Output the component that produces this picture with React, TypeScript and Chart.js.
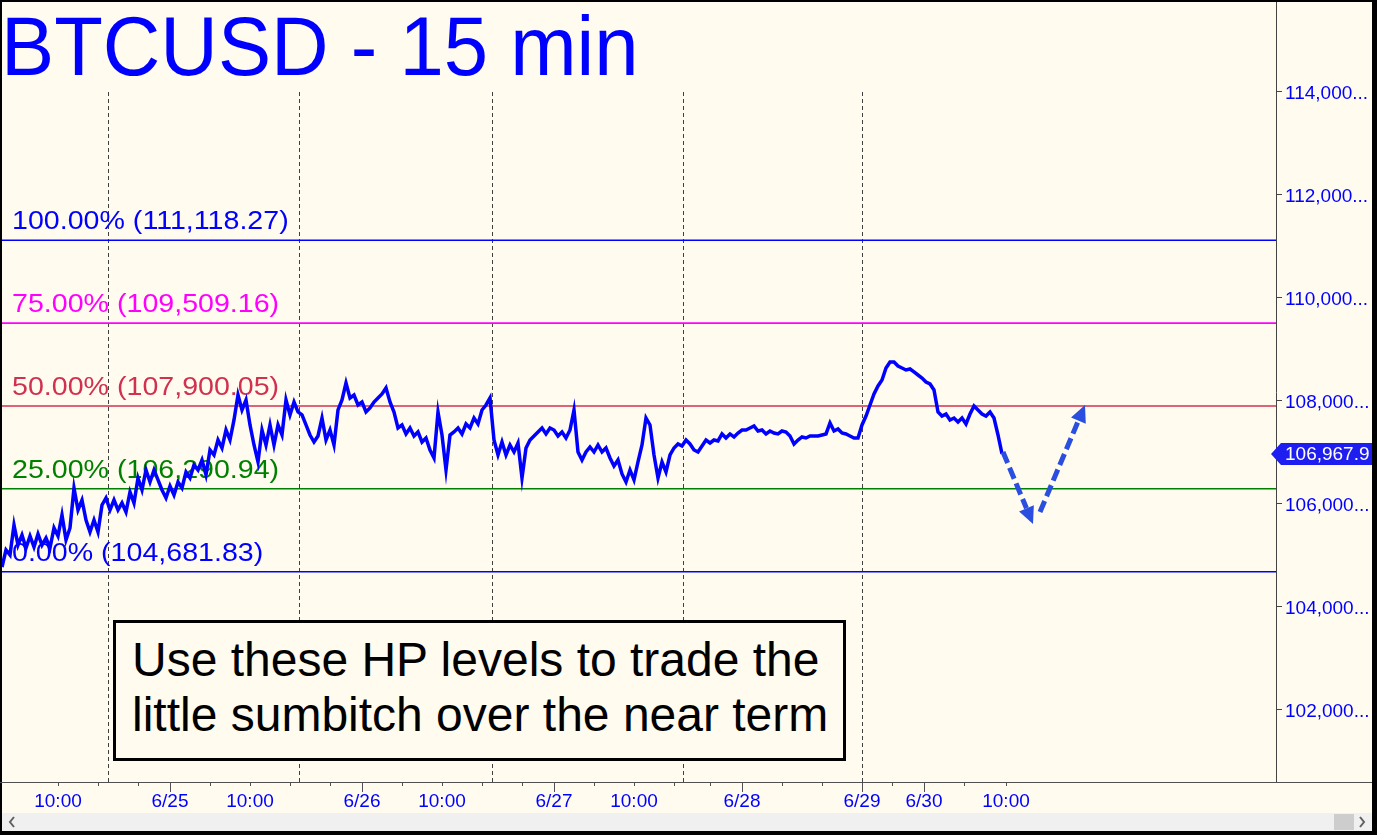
import React, { useEffect, useRef } from 'react';
import { Chart, registerables } from 'chart.js';

Chart.register(...registerables);

// ---------- data ----------
// one sample every 2 bars (15-min bars), starting at bar 0
const SAMPLE_BARS = 2;
const prices = [
  104773, 105104, 105006, 105589, 105200, 105395, 105142, 105375, 105162, 105414,
  105200, 105336, 105142, 105531, 105375, 105784, 105298, 105531, 106307, 105880,
  106074, 105686, 105453, 105686, 105453, 105977, 106113, 105880, 106074, 105880,
  106016, 105841, 106230, 106016, 106501, 106269, 106657, 106424, 106657, 106463,
  106269, 106113, 106346, 106171, 106424, 106307, 106618, 106501, 106754, 106657,
  106851, 106560, 107045, 106948, 107239, 107084, 107433, 107239, 107628, 108113,
  107822, 108016, 107531, 107142, 106812, 107433, 107142, 107531, 107142, 107531,
  107336, 108016, 107725, 107977, 107783, 107725, 107531, 107336, 107200, 107317,
  107666, 107239, 107433, 107142, 107822, 108016, 108346, 108055, 108113, 107919,
  107977, 107783, 107861, 107977, 108055, 108133, 108249, 107977, 107783, 107472,
  107531, 107356, 107472, 107317, 107395, 107200, 107278, 107045, 106890, 107783,
  107336, 106657, 107336, 107395, 107472, 107356, 107550, 107472, 107666, 107550,
  107822, 107919, 108055, 107239, 106948, 107200, 106948, 107142, 107006, 107181,
  106501, 107084, 107239, 107317, 107395, 107472, 107356, 107472, 107433, 107317,
  107395, 107278, 107433, 107822, 107006, 106851, 107006, 107103, 107006, 107142,
  107006, 107084, 106890, 106734, 106851, 106579, 106424, 106657, 106463, 106812,
  107142, 107666, 107531, 106948, 106501, 106812, 106618, 106948, 107084, 107162,
  107123, 107239, 107162, 107045, 107006, 107123, 107239, 107181, 107239, 107220,
  107356, 107278, 107356, 107298, 107375, 107433, 107433, 107472, 107511, 107414,
  107433, 107356, 107414, 107375, 107356, 107414, 107395, 107317, 107162, 107239,
  107298, 107278, 107317, 107317, 107317, 107336, 107356, 107569, 107414, 107453,
  107375, 107356, 107317, 107278, 107278, 107531, 107705, 107919, 108133, 108288,
  108404, 108637, 108754, 108754, 108676, 108637, 108599, 108618, 108560, 108501,
  108443, 108366, 108327, 108210, 107783, 107705, 107744, 107628, 107666, 107589,
  107666, 107550, 107744, 107899, 107822, 107744, 107705, 107783, 107666, 107336,
  106967.9,
];
const lastPrice = 106967.9;

const X_MIN = 0;
const X_MAX = 637;
const Y_MIN = 100598;
const Y_MAX = 115744;

const yTickValues = [102000, 104000, 106000, 108000, 110000, 112000, 114000];

const xTickPositions = [28, 48, 68, 84, 104, 124, 144, 164, 180, 200, 220, 240, 260, 276, 296, 316, 336, 354, 370, 390, 410, 430, 445, 461, 481, 502];
const xTickLabels = ['10:00', '', '', '6/25', '', '10:00', '', '', '6/26', '', '10:00', '', '', '6/27', '', '10:00', '', '', '6/28', '', '', '6/29', '', '6/30', '', '10:00'];
const xMajorTicks = ['6/25', '6/26', '6/27', '6/28', '6/29', '6/30'];

const sessionLines = [53, 148.5, 245, 340.5, 430];

const levelValues = [111118.27, 109509.16, 107900.05, 106290.94, 104681.83];
const levelNames = ['100.00%', '75.00%', '50.00%', '25.00%', '0.00%'];
const levelColors = ['#0000FF', '#FF00FF', '#D2304F', '#008000', '#0000FF'];

const arrowDownX = [500.5, 515.5];
const arrowDownY = [107006, 105608];
const arrowUpX = [519, 541.5];
const arrowUpY = [105841, 107919];

const FONT = '"Liberation Sans", Arial, sans-serif';
const BG = '#FFFBEF';

function drawArrow(ctx: CanvasRenderingContext2D, x1: number, y1: number, x2: number, y2: number) {
  const ang = Math.atan2(y2 - y1, x2 - x1);
  const hl = 17;
  const hw = 8;
  const bx = x2 - hl * Math.cos(ang);
  const by = y2 - hl * Math.sin(ang);
  ctx.save();
  ctx.strokeStyle = '#2A4FE0';
  ctx.fillStyle = '#2A4FE0';
  ctx.lineWidth = 5;
  ctx.setLineDash([12, 5]);
  ctx.beginPath();
  ctx.moveTo(x1, y1);
  ctx.lineTo(bx, by);
  ctx.stroke();
  ctx.setLineDash([]);
  ctx.beginPath();
  ctx.moveTo(x2, y2);
  ctx.lineTo(bx + hw * Math.sin(ang), by - hw * Math.cos(ang));
  ctx.lineTo(bx - hw * Math.sin(ang), by + hw * Math.cos(ang));
  ctx.closePath();
  ctx.fill();
  ctx.restore();
}

const decorPlugin = {
  id: 'decor',
  beforeDraw(chart: any) {
    const { ctx, width, height } = chart;
    ctx.save();
    ctx.fillStyle = '#000';
    ctx.fillRect(0, 0, width, height);
    ctx.fillStyle = BG;
    ctx.fillRect(2, 2, width - 7, height - 6);
    // scrollbar
    ctx.fillStyle = '#F0F0F0';
    ctx.fillRect(2, 813, width - 7, 18);
    ctx.fillStyle = '#CDCDCD';
    ctx.fillRect(1334, 814, 20, 16);
    ctx.strokeStyle = '#606060';
    ctx.lineWidth = 2;
    ctx.beginPath();
    ctx.moveTo(14, 817);
    ctx.lineTo(10, 822);
    ctx.lineTo(14, 827);
    ctx.stroke();
    ctx.beginPath();
    ctx.moveTo(1360, 817);
    ctx.lineTo(1364, 822);
    ctx.lineTo(1360, 827);
    ctx.stroke();
    ctx.restore();
  },
  beforeDatasetsDraw(chart: any) {
    const { ctx, chartArea } = chart;
    const xs = chart.scales.x;
    const ys = chart.scales.y;
    ctx.save();
    // session dashed lines
    ctx.strokeStyle = '#404040';
    ctx.lineWidth = 1;
    ctx.setLineDash([4, 3]);
    sessionLines.forEach((v) => {
      const px = Math.round(xs.getPixelForValue(v)) + 0.5;
      ctx.beginPath();
      ctx.moveTo(px, 92);
      ctx.lineTo(px, chartArea.bottom);
      ctx.stroke();
    });
    ctx.setLineDash([]);
    // level labels
    ctx.font = `26px ${FONT}`;
    ctx.textAlign = 'left';
    ctx.textBaseline = 'alphabetic';
    levelValues.forEach((v, i) => {
      const py = ys.getPixelForValue(v);
      ctx.fillStyle = levelColors[i];
      const txt = `${levelNames[i]} (${v.toLocaleString('en-US', { minimumFractionDigits: 2, maximumFractionDigits: 2 })})`;
      ctx.save();
      ctx.translate(chartArea.left + 10, py - 11);
      ctx.scale(1.1, 1);
      ctx.fillText(txt, 0, 0);
      ctx.restore();
    });
    // level lines
    ctx.lineWidth = 1.6;
    levelValues.forEach((v, i) => {
      const py = ys.getPixelForValue(v);
      ctx.strokeStyle = levelColors[i];
      ctx.beginPath();
      ctx.moveTo(chartArea.left, py);
      ctx.lineTo(chartArea.right, py);
      ctx.stroke();
    });
    ctx.restore();
  },
  afterDatasetsDraw(chart: any) {
    const { ctx } = chart;
    const xs = chart.scales.x;
    const ys = chart.scales.y;
    drawArrow(ctx, xs.getPixelForValue(arrowDownX[0]), ys.getPixelForValue(arrowDownY[0]), xs.getPixelForValue(arrowDownX[1]), ys.getPixelForValue(arrowDownY[1]));
    drawArrow(ctx, xs.getPixelForValue(arrowUpX[0]), ys.getPixelForValue(arrowUpY[0]), xs.getPixelForValue(arrowUpX[1]), ys.getPixelForValue(arrowUpY[1]));
  },
  afterDraw(chart: any) {
    const { ctx, chartArea, width } = chart;
    const xs = chart.scales.x;
    const ys = chart.scales.y;
    ctx.save();
    // x axis line full width
    ctx.strokeStyle = '#505050';
    ctx.lineWidth = 1;
    ctx.beginPath();
    ctx.moveTo(0, chartArea.bottom + 0.5);
    ctx.lineTo(width - 5, chartArea.bottom + 0.5);
    ctx.stroke();
    // x ticks
    xTickPositions.forEach((v, i) => {
      const px = Math.round(xs.getPixelForValue(v)) + 0.5;
      const len = xMajorTicks.includes(xTickLabels[i]) ? 10 : 4;
      ctx.beginPath();
      ctx.moveTo(px, chartArea.bottom);
      ctx.lineTo(px, chartArea.bottom + len);
      ctx.stroke();
    });
    // price tag
    const py = ys.getPixelForValue(lastPrice);
    ctx.beginPath();
    ctx.rect(chartArea.right - 8, py - 14, width - 5 - (chartArea.right - 8), 28);
    ctx.clip();
    ctx.fillStyle = '#1E1EF0';
    ctx.beginPath();
    ctx.moveTo(chartArea.right - 5, py);
    ctx.lineTo(chartArea.right + 5, py - 11);
    ctx.lineTo(width - 5, py - 11);
    ctx.lineTo(width - 5, py + 11);
    ctx.lineTo(chartArea.right + 5, py + 11);
    ctx.closePath();
    ctx.fill();
    ctx.fillStyle = '#FFFFFF';
    ctx.font = `19px ${FONT}`;
    ctx.textAlign = 'left';
    ctx.textBaseline = 'middle';
    ctx.fillText(lastPrice.toLocaleString('en-US', { minimumFractionDigits: 1 }), chartArea.right + 9, py + 1);
    ctx.restore();
  },
};

export default function App() {
  const ref = useRef<HTMLCanvasElement | null>(null);

  useEffect(() => {
    document.body.style.margin = '0';
    const canvas = ref.current;
    if (!canvas) return;
    const data = prices.map((p, k) => ({ x: k * SAMPLE_BARS, y: p }));
    const chart = new Chart(canvas, {
      type: 'line',
      data: {
        datasets: [
          {
            data,
            borderColor: '#0000FF',
            borderWidth: 3.5,
            pointRadius: 0,
            tension: 0,
            fill: false,
          },
        ],
      },
      options: {
        responsive: false,
        animation: false,
        devicePixelRatio: 1,
        layout: { padding: { left: 2, top: 2, right: 5, bottom: 22 } },
        plugins: { legend: { display: false }, tooltip: { enabled: false } },
        scales: {
          x: {
            type: 'linear',
            min: X_MIN,
            max: X_MAX,
            afterBuildTicks: (scale: any) => {
              scale.ticks = xTickPositions.map((v) => ({ value: v }));
            },
            afterFit: (scale: any) => {
              scale.height = 31;
              scale.paddingLeft = 0;
              scale.paddingRight = 0;
            },
            grid: { display: false, drawTicks: false },
            border: { display: false },
            ticks: {
              autoSkip: false,
              maxRotation: 0,
              minRotation: 0,
              padding: 8,
              color: '#0000FF',
              font: { family: FONT, size: 19 },
              callback: (_v: any, i: number) => xTickLabels[i],
            },
          },
          y: {
            type: 'linear',
            position: 'right',
            min: Y_MIN,
            max: Y_MAX,
            afterBuildTicks: (scale: any) => {
              scale.ticks = yTickValues.map((v) => ({ value: v }));
            },
            afterFit: (scale: any) => {
              scale.width = 96;
              scale.paddingTop = 0;
              scale.paddingBottom = 0;
            },
            grid: { drawOnChartArea: false, tickLength: 6, color: '#444444' },
            border: { display: true, color: '#444444', width: 1 },
            ticks: {
              padding: 3,
              labelOffset: 2,
              color: '#0000FF',
              font: { family: FONT, size: 19 },
              callback: (v: any) => Number(v).toLocaleString('en-US') + '...',
            },
          },
        },
      },
      plugins: [decorPlugin],
    });
    return () => chart.destroy();
  }, []);

  return (
    <div style={{ position: 'relative', width: 1377, height: 835, overflow: 'hidden' }}>
      <canvas ref={ref} width={1377} height={835} style={{ display: 'block' }} />
      <div
        style={{
          position: 'absolute',
          left: 1,
          top: 5,
          fontFamily: FONT,
          fontSize: 83,
          lineHeight: 1,
          color: '#0000FF',
          whiteSpace: 'nowrap',
          transform: 'scaleX(0.96)',
          transformOrigin: 'left top',
        }}
      >
        BTCUSD - 15 min
      </div>
      <div
        style={{
          position: 'absolute',
          left: 113,
          top: 620,
          width: 733,
          height: 141,
          boxSizing: 'border-box',
          border: '3px solid #000',
          background: BG,
          paddingLeft: 16,
          paddingTop: 9,
          fontFamily: FONT,
          fontSize: 48,
          lineHeight: '55px',
          color: '#000',
          whiteSpace: 'nowrap',
        }}
      >
        Use these HP levels to trade the
        <br />
        little sumbitch over the near term
      </div>
    </div>
  );
}
